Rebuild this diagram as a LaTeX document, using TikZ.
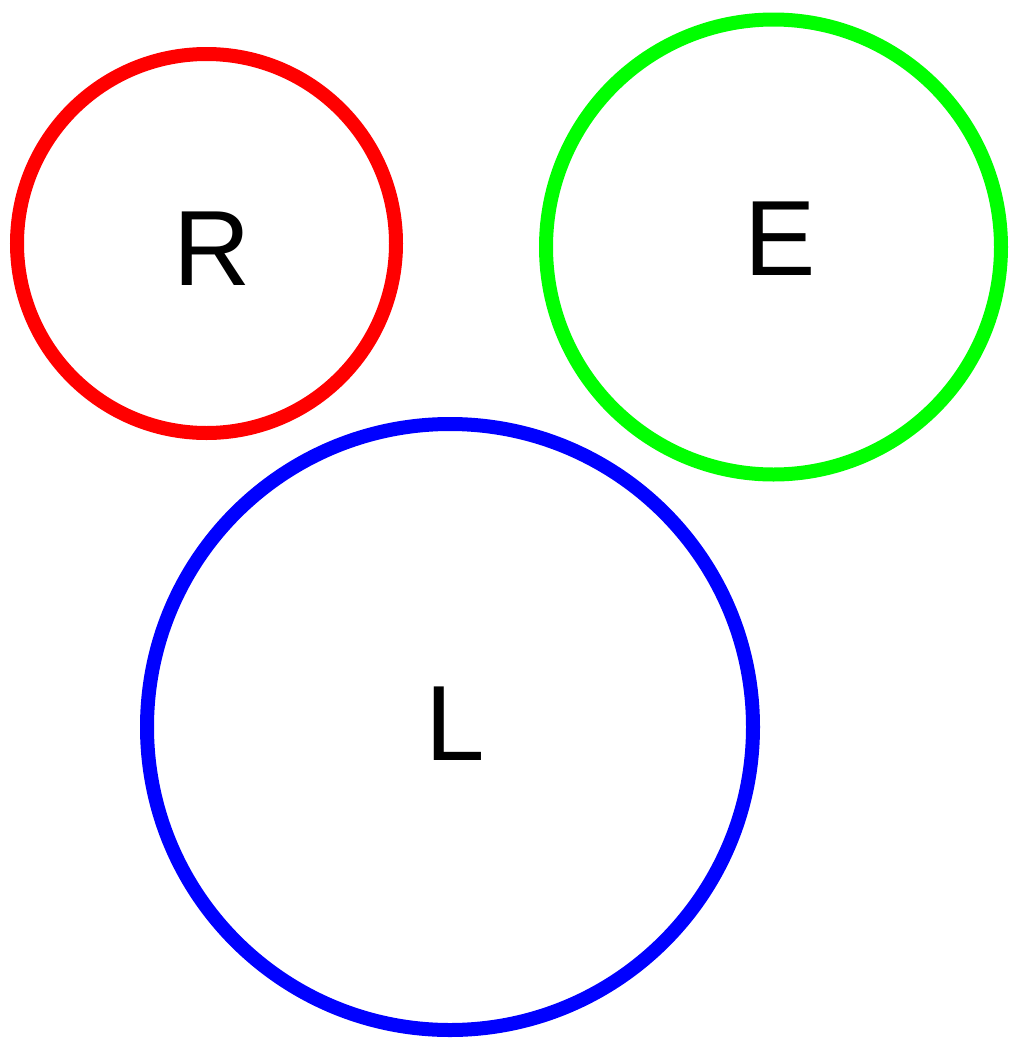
\documentclass[tikz,border=0pt]{standalone}
\usepackage{fontspec}
\setmainfont{Liberation Sans}
\begin{document}
\begin{tikzpicture}[x=1pt,y=-1pt,
  ring/.style={circle,draw,line width=14pt,inner sep=0pt,minimum size=#1},
  letter/.style={anchor=base,inner sep=0pt,font=\fontsize{107}{120}\selectfont}]
\useasboundingbox[fill=white] (0,0) rectangle (1009,1039);
\node[ring=379pt,draw={rgb,255:red,255;green,0;blue,0}] (rc) at (206.5,243.5) {};
\node[ring=455pt,draw={rgb,255:red,0;green,255;blue,0}] (ec) at (773.5,247) {};
\node[ring=606pt,draw={rgb,255:red,0;green,0;blue,255}] (lc) at (450,727) {};
\node[letter] (rt) at (212,285) {R};
\node[letter] (et) at (780,275) {E};
\node[letter] (lt) at (455,760) {L};
\end{tikzpicture}
\end{document}
